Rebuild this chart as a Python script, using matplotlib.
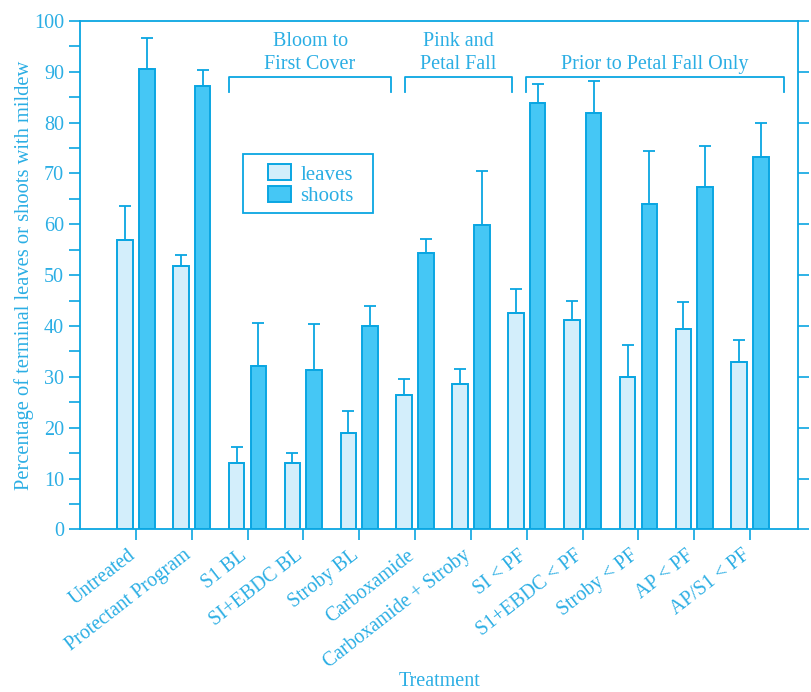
import matplotlib.pyplot as plt
import matplotlib.patches as mpatches
import numpy as np

treatments = ['Untreated', 'Protectant Program', 'S1 BL', 'SI+EBDC BL', 'Stroby BL',
              'Carboxamide', 'Carboxamide + Stroby', 'SI < PF', 'S1+EBDC < PF',
              'Stroby < PF', 'AP < PF', 'AP/S1 < PF']
leaves = [57.0, 51.8, 13.0, 13.0, 18.9, 26.4, 28.5, 42.5, 41.1, 30.0, 39.5, 33.0]
leaves_err = [6.7, 2.1, 3.3, 2.0, 4.3, 3.2, 3.0, 4.7, 3.8, 6.2, 5.3, 4.2]
shoots = [90.5, 87.3, 32.2, 31.3, 40.1, 54.3, 59.8, 83.8, 81.9, 64.0, 67.3, 73.3]
shoots_err = [6.1, 3.0, 8.4, 9.0, 3.8, 2.9, 10.6, 3.8, 6.3, 10.4, 8.1, 6.6]

groups = ['Bloom to\nFirst Cover', 'Pink and\nPetal Fall', 'Prior to Petal Fall Only']
group_span = [(1.67, 4.57), (4.82, 6.73), (6.98, 11.61)]

edge = '#0AA6E2'
text_c = '#2BAEE4'
c_leaves = '#D3EEFB'
c_shoots = '#45C7F5'

plt.rcParams['font.family'] = ['Liberation Serif', 'DejaVu Serif']

fig = plt.figure(figsize=(8.12, 6.92), dpi=100)
ax = fig.add_axes([0.0985, 0.235, 0.8845, 0.7347])

x = np.arange(len(treatments))
w = 0.28
off = 0.195
ekw = dict(ecolor=edge, elinewidth=1.3, capsize=4.5, capthick=1.3)
ax.bar(x - off, leaves, w, color=c_leaves, edgecolor=edge, linewidth=1.4, label='leaves',
       yerr=[np.zeros(len(x)), leaves_err], error_kw=ekw)
ax.bar(x + off, shoots, w, color=c_shoots, edgecolor=edge, linewidth=1.4, label='shoots',
       yerr=[np.zeros(len(x)), shoots_err], error_kw=ekw)

ax.set_xlim(-1.0, 11.86)
ax.set_ylim(0, 100)
ax.set_yticks(np.arange(0, 101, 10))
ax.set_yticks(np.arange(5, 100, 10), minor=True)
ax.set_xticks(x)
ax.set_xticklabels(treatments, rotation=38, ha='right', va='baseline', rotation_mode='anchor',
                   fontsize=14.2, color=text_c)
for lab in ax.get_yticklabels():
    lab.set_color(text_c)
    lab.set_fontsize(14.5)

for s in ax.spines.values():
    s.set_color(edge)
    s.set_linewidth(1.3)
ax.tick_params(axis='both', which='both', color=edge, width=1.2, length=8, direction='out')
ax.tick_params(axis='x', pad=12)
ax.tick_params(axis='y', which='major', right=True)

ax.set_ylabel('Percentage of terminal leaves or shoots with mildew', color=text_c, fontsize=14.8)
ax.yaxis.set_label_coords(-0.064, 0.5)
ax.set_xlabel('Treatment', color=text_c, fontsize=14.5)
ax.xaxis.set_label_coords(0.5, -0.299)
ax.xaxis.label.set_va('center')

# treatment-timing brackets
for name, (a, b) in zip(groups, group_span):
    ax.plot([a, a, b, b], [86.0, 89.0, 89.0, 86.0], color=edge, lw=1.3, clip_on=False)
    ax.text((a + b) / 2, 89.6, name, ha='center', va='bottom', fontsize=14.5,
            color=text_c, linespacing=1.3)

# legend in a hand-placed box
ax.add_patch(mpatches.Rectangle((0.227, 0.622), 0.181, 0.116, transform=ax.transAxes,
                                fill=False, edgecolor=edge, linewidth=1.3, clip_on=False))
leg = ax.legend(loc='upper left', bbox_to_anchor=(0.262, 0.718), fontsize=15, frameon=False,
                borderpad=0, borderaxespad=0, handlelength=1.1, handleheight=0.8,
                handletextpad=0.45, labelspacing=0.05)
for t in leg.get_texts():
    t.set_color(text_c)

fig.savefig('out.png', dpi=100)
